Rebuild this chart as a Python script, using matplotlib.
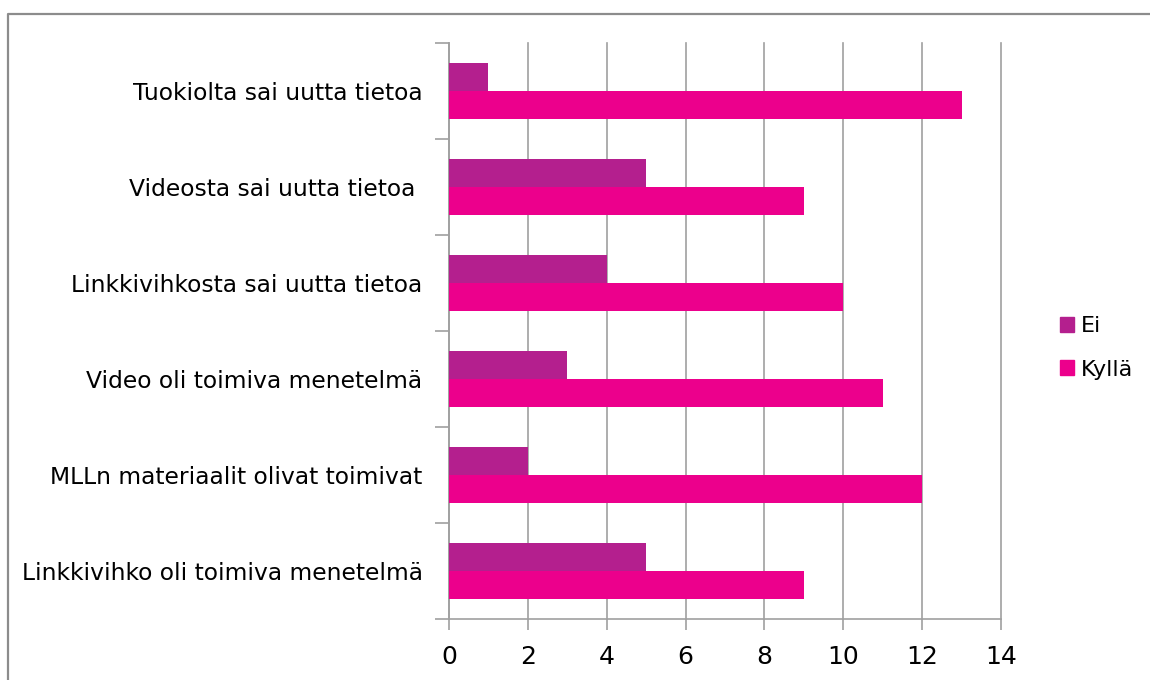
import matplotlib
matplotlib.use("Agg")
import matplotlib.pyplot as plt
from matplotlib.patches import Patch
from matplotlib.lines import Line2D

categories = [
    "Tuokiolta sai uutta tietoa",
    "Videosta sai uutta tietoa ",
    "Linkkivihkosta sai uutta tietoa",
    "Video oli toimiva menetelmä",
    "MLLn materiaalit olivat toimivat",
    "Linkkivihko oli toimiva menetelmä",
]
ei = [1, 5, 4, 3, 2, 5]
kylla = [13, 9, 10, 11, 12, 9]
x_ticks = [0, 2, 4, 6, 8, 10, 12, 14]

EI_COLOR = "#b41f8e"
KYLLA_COLOR = "#ec008c"
GRID = "#a0a0a0"

plt.rcParams["font.family"] = ["DejaVu Sans"]

fig = plt.figure(figsize=(11.5, 6.8), dpi=100)
ax = fig.add_axes([449 / 1150, 1 - 619 / 680, 552 / 1150, 576 / 680])

pos = list(range(len(categories)))
h = 0.29
ax.barh([p - h / 2 for p in pos], ei, height=h, color=EI_COLOR, zorder=3)
ax.barh([p + h / 2 for p in pos], kylla, height=h, color=KYLLA_COLOR, zorder=3)

ax.set_xlim(0, 14)
ax.set_ylim(len(categories) - 0.5, -0.5)
ax.set_xticks(x_ticks)
ax.set_xticklabels([str(t) for t in x_ticks], fontsize=18)

# category boundaries get the tick marks, labels sit in the middle
ax.set_yticks([p - 0.5 for p in range(len(categories) + 1)])
ax.set_yticklabels([])
ax.set_yticks(pos, minor=True)
ax.set_yticklabels(categories, minor=True, fontsize=16.8)
ax.tick_params(axis="y", which="minor", length=0, pad=19)
ax.tick_params(axis="y", which="major", length=10, width=1.2, color=GRID)
ax.tick_params(axis="x", length=8, width=1.2, color=GRID, pad=11)

ax.grid(axis="x", color=GRID, linewidth=1.2, zorder=0)
for gl in ax.get_xgridlines():
    gl.set_clip_on(False)
for s in ["top", "right"]:
    ax.spines[s].set_visible(False)
for s in ["left", "bottom"]:
    ax.spines[s].set_color(GRID)
    ax.spines[s].set_linewidth(1.2)

handles = [Patch(color=EI_COLOR, label="Ei"), Patch(color=KYLLA_COLOR, label="Kyllä")]
fig.legend(handles=handles, loc="center left", bbox_to_anchor=(1040 / 1150, 1 - 348 / 680),
           frameon=False, fontsize=16, handlelength=0.65, handleheight=0.65,
           handletextpad=0.3, labelspacing=1.05)

# outer chart border (only top and left visible in the crop)
y_top = 1 - 14 / 680
x_left = 8 / 1150
fig.add_artist(Line2D([x_left, x_left, 1], [0, y_top, y_top], transform=fig.transFigure,
                      color="#8c8c8c", linewidth=1.6))

fig.savefig("out.png", dpi=100, facecolor="white")
